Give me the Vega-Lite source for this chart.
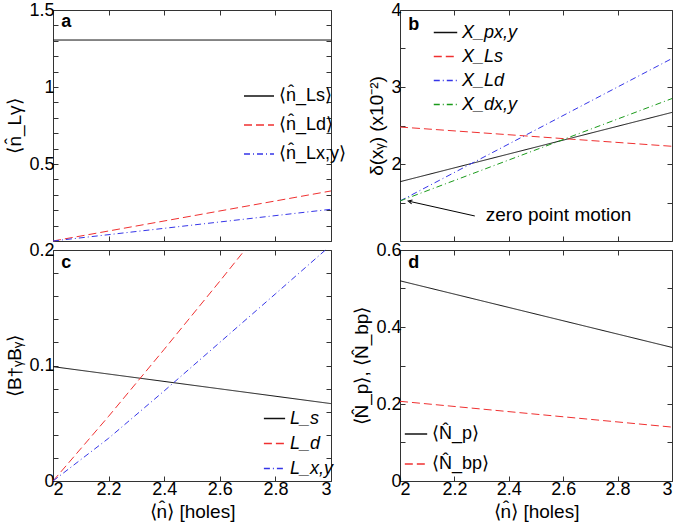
{
  "$schema": "https://vega.github.io/schema/vega-lite/v6.json",
  "padding": {"left": 5, "top": 0, "right": 5, "bottom": 5},
  "config": {
    "font": "Liberation Sans",
    "view": {"stroke": "#333", "strokeWidth": 1},
    "axis": {
      "domain": false, "grid": false, "tickSize": -5, "tickColor": "#333",
      "labelFontSize": 18, "labelColor": "#000", "labelPadding": 4,
      "titleFontSize": 19, "titleFontWeight": "normal", "titleColor": "#000",
      "format": "~g"
    },
    "legend": {
      "symbolType": "stroke", "symbolStrokeWidth": 1.3, "labelFontSize": 18,
      "labelColor": "#000", "orient": "none", "title": null
    },
    "text": {"font": "Liberation Sans"}
  },
  "datasets": {
    "a": [
      {"x": 2, "y": 1.305, "s": "⟨n̂_Ls⟩"}, {"x": 3, "y": 1.305, "s": "⟨n̂_Ls⟩"},
      {"x": 2, "y": 0.0, "s": "⟨n̂_Ld⟩"}, {"x": 3, "y": 0.325, "s": "⟨n̂_Ld⟩"},
      {"x": 2, "y": 0.0, "s": "⟨n̂_Lx,y⟩"}, {"x": 3, "y": 0.206, "s": "⟨n̂_Lx,y⟩"}
    ],
    "b": [
      {"x": 2, "y": 1.77, "s": "X_px,y"}, {"x": 3, "y": 2.67, "s": "X_px,y"},
      {"x": 2, "y": 2.48, "s": "X_Ls"}, {"x": 3, "y": 2.23, "s": "X_Ls"},
      {"x": 2, "y": 1.52, "s": "X_Ld"}, {"x": 3, "y": 3.37, "s": "X_Ld"},
      {"x": 2, "y": 1.52, "s": "X_dx,y"}, {"x": 3, "y": 2.85, "s": "X_dx,y"}
    ],
    "c": [
      {"x": 2, "y": 0.099, "s": "L_s"}, {"x": 3, "y": 0.067, "s": "L_s"},
      {"x": 2, "y": 0.0, "s": "L_d"}, {"x": 2.2, "y": 0.056, "s": "L_d"}, {"x": 2.4, "y": 0.114, "s": "L_d"}, {"x": 2.6, "y": 0.173, "s": "L_d"}, {"x": 2.69, "y": 0.2, "s": "L_d"},
      {"x": 2, "y": 0.0, "s": "L_x,y"}, {"x": 2.2, "y": 0.037, "s": "L_x,y"}, {"x": 2.4, "y": 0.078, "s": "L_x,y"}, {"x": 2.6, "y": 0.12, "s": "L_x,y"}, {"x": 2.8, "y": 0.162, "s": "L_x,y"}, {"x": 2.98, "y": 0.2, "s": "L_x,y"}
    ],
    "d": [
      {"x": 2, "y": 0.52, "s": "⟨N̂_p⟩"}, {"x": 3, "y": 0.347, "s": "⟨N̂_p⟩"},
      {"x": 2, "y": 0.207, "s": "⟨N̂_bp⟩"}, {"x": 3, "y": 0.14, "s": "⟨N̂_bp⟩"}
    ]
  },
  "columns": 2,
  "spacing": {"row": 9, "column": 69},
  "bounds": "flush",
  "resolve": {"scale": {"color": "independent", "strokeDash": "independent", "x": "independent", "y": "independent"}},
  "concat": [
    {
      "width": 278, "height": 231,
      "layer": [
        {
          "data": {"name": "a"},
          "mark": {"type": "line", "strokeWidth": 1},
          "encoding": {
            "x": {"field": "x", "type": "quantitative", "scale": {"domain": [2, 3], "nice": false}, "axis": {"values": [2, 2.2, 2.4, 2.6, 2.8, 3], "labels": false, "title": null}},
            "y": {"field": "y", "type": "quantitative", "scale": {"domain": [0, 1.5], "nice": false}, "axis": {"values": [0, 0.1, 0.2, 0.3, 0.4, 0.5, 0.6, 0.7, 0.8, 0.9, 1, 1.1, 1.2, 1.3, 1.4, 1.5], "labelExpr": "indexof([0.5, 1, 1.5], datum.value) >= 0 ? datum.label : ''", "title": "⟨n̂_Lγ⟩"}},
            "color": {"field": "s", "type": "nominal", "scale": {"domain": ["⟨n̂_Ls⟩", "⟨n̂_Ld⟩", "⟨n̂_Lx,y⟩"], "range": ["#111111", "#f03030", "#3535e8"]}, "legend": {"legendX": 190, "legendY": 70, "symbolSize": 900, "rowPadding": 4}},
            "strokeDash": {"field": "s", "type": "nominal", "scale": {"domain": ["⟨n̂_Ls⟩", "⟨n̂_Ld⟩", "⟨n̂_Lx,y⟩"], "range": [[1, 0], [8, 4], [6, 3, 1, 3]]}, "legend": {"legendX": 190, "legendY": 70, "symbolSize": 900, "rowPadding": 4}}
          }
        },
        {
          "data": {"values": [{"x": 2.03, "y": 1.42, "t": "a"}]},
          "mark": {"type": "text", "fontWeight": "bold", "fontSize": 18, "align": "left", "baseline": "middle"},
          "encoding": {
            "x": {"field": "x", "type": "quantitative", "scale": {"domain": [2, 3], "nice": false}, "axis": {"orient": "top", "values": [2, 2.2, 2.4, 2.6, 2.8, 3], "labels": false, "title": null}},
            "y": {"field": "y", "type": "quantitative", "scale": {"domain": [0, 1.5], "nice": false}, "axis": {"orient": "right", "values": [0, 0.1, 0.2, 0.3, 0.4, 0.5, 0.6, 0.7, 0.8, 0.9, 1, 1.1, 1.2, 1.3, 1.4, 1.5], "labels": false, "title": null}},
            "text": {"field": "t"}
          }
        }
      ],
      "resolve": {"axis": {"x": "independent", "y": "independent"}}
    },
    {
      "width": 272, "height": 231,
      "layer": [
        {
          "data": {"name": "b"},
          "mark": {"type": "line", "strokeWidth": 1},
          "encoding": {
            "x": {"field": "x", "type": "quantitative", "scale": {"domain": [2, 3], "nice": false}, "axis": {"values": [2, 2.2, 2.4, 2.6, 2.8, 3], "labels": false, "title": null}},
            "y": {"field": "y", "type": "quantitative", "scale": {"domain": [1, 4], "nice": false}, "axis": {"values": [1, 1.5, 2, 2.5, 3, 3.5, 4], "labelExpr": "indexof([2, 3, 4], datum.value) >= 0 ? datum.label : ''", "title": "δ(xᵧ)  (x10⁻²)"}},
            "color": {"field": "s", "type": "nominal", "scale": {"domain": ["X_px,y", "X_Ls", "X_Ld", "X_dx,y"], "range": ["#111111", "#f03030", "#3535e8", "#1a9a1a"]}, "legend": {"legendX": 33, "legendY": 10, "symbolSize": 550, "rowPadding": 2, "labelFontStyle": "italic"}},
            "strokeDash": {"field": "s", "type": "nominal", "scale": {"domain": ["X_px,y", "X_Ls", "X_Ld", "X_dx,y"], "range": [[1, 0], [8, 4], [6, 3, 1, 3], [6, 3, 1, 3]]}, "legend": {"legendX": 33, "legendY": 10, "symbolSize": 550, "rowPadding": 2, "labelFontStyle": "italic"}}
          }
        },
        {
          "data": {"values": [{"x": 2.275, "y": 1.325, "x2": 2.035, "y2": 1.515}]},
          "mark": {"type": "rule", "color": "#000", "strokeWidth": 1},
          "encoding": {
            "x": {"field": "x", "type": "quantitative", "scale": {"domain": [2, 3], "nice": false}, "axis": null},
            "y": {"field": "y", "type": "quantitative", "scale": {"domain": [1, 4], "nice": false}, "axis": null},
            "x2": {"field": "x2"},
            "y2": {"field": "y2"}
          }
        },
        {
          "data": {"values": [{"x": 2.03, "y": 1.52}]},
          "mark": {"type": "point", "shape": "M-0.5,1L0,0L0.5,1", "filled": false, "color": "#000", "strokeWidth": 1, "size": 64, "angle": 283, "opacity": 1},
          "encoding": {
            "x": {"field": "x", "type": "quantitative", "scale": {"domain": [2, 3], "nice": false}, "axis": null},
            "y": {"field": "y", "type": "quantitative", "scale": {"domain": [1, 4], "nice": false}, "axis": null}
          }
        },
        {
          "data": {"values": [{"x": 2.315, "y": 1.34, "t": "zero point motion"}]},
          "mark": {"type": "text", "fontSize": 19, "align": "left", "baseline": "middle"},
          "encoding": {
            "x": {"field": "x", "type": "quantitative", "scale": {"domain": [2, 3], "nice": false}, "axis": null},
            "y": {"field": "y", "type": "quantitative", "scale": {"domain": [1, 4], "nice": false}, "axis": null},
            "text": {"field": "t"}
          }
        },
        {
          "data": {"values": [{"x": 2.03, "y": 3.81, "t": "b"}]},
          "mark": {"type": "text", "fontWeight": "bold", "fontSize": 18, "align": "left", "baseline": "middle"},
          "encoding": {
            "x": {"field": "x", "type": "quantitative", "scale": {"domain": [2, 3], "nice": false}, "axis": {"orient": "top", "values": [2, 2.2, 2.4, 2.6, 2.8, 3], "labels": false, "title": null}},
            "y": {"field": "y", "type": "quantitative", "scale": {"domain": [1, 4], "nice": false}, "axis": {"orient": "right", "values": [1, 1.5, 2, 2.5, 3, 3.5, 4], "labels": false, "title": null}},
            "text": {"field": "t"}
          }
        }
      ],
      "resolve": {"axis": {"x": "independent", "y": "independent"}}
    },
    {
      "width": 278, "height": 231,
      "layer": [
        {
          "data": {"name": "c"},
          "mark": {"type": "line", "strokeWidth": 1},
          "encoding": {
            "x": {"field": "x", "type": "quantitative", "scale": {"domain": [2, 3], "nice": false}, "axis": {"values": [2, 2.2, 2.4, 2.6, 2.8, 3], "title": "⟨n̂⟩ [holes]"}},
            "y": {"field": "y", "type": "quantitative", "scale": {"domain": [0, 0.2], "nice": false}, "axis": {"values": [0, 0.02, 0.04, 0.06, 0.08, 0.1, 0.12, 0.14, 0.16, 0.18, 0.2], "labelExpr": "indexof([0, 0.1, 0.2], datum.value) >= 0 ? datum.label : ''", "title": "⟨B†ᵧBᵧ⟩"}},
            "color": {"field": "s", "type": "nominal", "scale": {"domain": ["L_s", "L_d", "L_x,y"], "range": ["#111111", "#f03030", "#3535e8"]}, "legend": {"legendX": 210, "legendY": 157, "symbolSize": 450, "rowPadding": 4, "labelFontStyle": "italic"}},
            "strokeDash": {"field": "s", "type": "nominal", "scale": {"domain": ["L_s", "L_d", "L_x,y"], "range": [[1, 0], [8, 4], [6, 3, 1, 3]]}, "legend": {"legendX": 210, "legendY": 157, "symbolSize": 450, "rowPadding": 4, "labelFontStyle": "italic"}}
          }
        },
        {
          "data": {"values": [{"x": 2.03, "y": 0.189, "t": "c"}]},
          "mark": {"type": "text", "fontWeight": "bold", "fontSize": 18, "align": "left", "baseline": "middle"},
          "encoding": {
            "x": {"field": "x", "type": "quantitative", "scale": {"domain": [2, 3], "nice": false}, "axis": {"orient": "top", "values": [2, 2.2, 2.4, 2.6, 2.8, 3], "labels": false, "title": null}},
            "y": {"field": "y", "type": "quantitative", "scale": {"domain": [0, 0.2], "nice": false}, "axis": {"orient": "right", "values": [0, 0.02, 0.04, 0.06, 0.08, 0.1, 0.12, 0.14, 0.16, 0.18, 0.2], "labels": false, "title": null}},
            "text": {"field": "t"}
          }
        }
      ],
      "resolve": {"axis": {"x": "independent", "y": "independent"}}
    },
    {
      "width": 272, "height": 231,
      "layer": [
        {
          "data": {"name": "d"},
          "mark": {"type": "line", "strokeWidth": 1},
          "encoding": {
            "x": {"field": "x", "type": "quantitative", "scale": {"domain": [2, 3], "nice": false}, "axis": {"values": [2, 2.2, 2.4, 2.6, 2.8, 3], "title": "⟨n̂⟩ [holes]"}},
            "y": {"field": "y", "type": "quantitative", "scale": {"domain": [0, 0.6], "nice": false}, "axis": {"values": [0, 0.1, 0.2, 0.3, 0.4, 0.5, 0.6], "labelExpr": "indexof([0, 0.2, 0.4, 0.6], datum.value) >= 0 ? datum.label : ''", "title": "⟨N̂_p⟩, ⟨N̂_bp⟩"}},
            "color": {"field": "s", "type": "nominal", "scale": {"domain": ["⟨N̂_p⟩", "⟨N̂_bp⟩"], "range": ["#111111", "#f03030"]}, "legend": {"legendX": 4, "legendY": 172, "symbolSize": 500, "rowPadding": 9}},
            "strokeDash": {"field": "s", "type": "nominal", "scale": {"domain": ["⟨N̂_p⟩", "⟨N̂_bp⟩"], "range": [[1, 0], [8, 4]]}, "legend": {"legendX": 4, "legendY": 172, "symbolSize": 500, "rowPadding": 9}}
          }
        },
        {
          "data": {"values": [{"x": 2.03, "y": 0.567, "t": "d"}]},
          "mark": {"type": "text", "fontWeight": "bold", "fontSize": 18, "align": "left", "baseline": "middle"},
          "encoding": {
            "x": {"field": "x", "type": "quantitative", "scale": {"domain": [2, 3], "nice": false}, "axis": {"orient": "top", "values": [2, 2.2, 2.4, 2.6, 2.8, 3], "labels": false, "title": null}},
            "y": {"field": "y", "type": "quantitative", "scale": {"domain": [0, 0.6], "nice": false}, "axis": {"orient": "right", "values": [0, 0.1, 0.2, 0.3, 0.4, 0.5, 0.6], "labels": false, "title": null}},
            "text": {"field": "t"}
          }
        }
      ],
      "resolve": {"axis": {"x": "independent", "y": "independent"}}
    }
  ]
}
